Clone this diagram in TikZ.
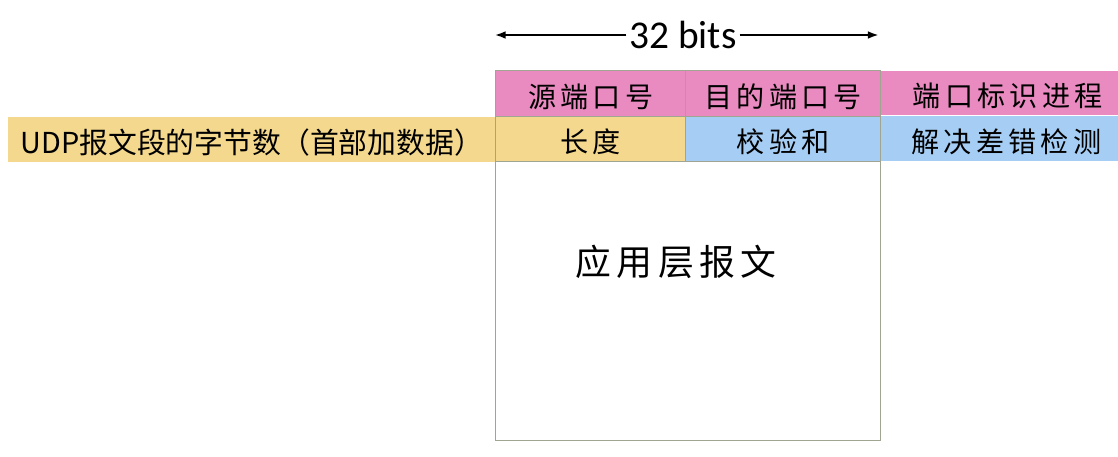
\documentclass[tikz,border=0pt]{standalone}
\usepackage{fontspec}
\setmainfont{Carlito}
\newfontfamily\cjk{Noto Sans CJK SC}
\newfontfamily\cjkwide[LetterSpace=15]{Noto Sans CJK SC}
\usetikzlibrary{arrows.meta,positioning}
\definecolor{portpink}{RGB}{233,139,192}
\definecolor{lenyellow}{RGB}{243,216,141}
\definecolor{sumblue}{RGB}{166,206,245}
\definecolor{cellline}{RGB}{160,165,145}
\tikzset{
	>={Latex[length=7.5pt,width=5.5pt]},
	cell/.style = {
			draw      = cellline,
			line width = 0.9pt,
			anchor    = north west,
			inner sep = 0pt,
			text height = 21pt,
			font      = \fontsize{20}{24}\selectfont\cjkwide,
		},
	note/.style = {
			anchor    = north west,
			inner sep = 0pt,
			text height = 21pt,
			font      = \fontsize{20}{24}\selectfont\cjkwide,
		}
}

\begin{document}
\begin{tikzpicture}[x=0.025cm,y=-0.025cm]
	\useasboundingbox (0,0) rectangle (1118,457);

	% notes beside the header
	\node[note, fill=portpink, minimum width=5.95cm, minimum height=1.1cm] (portnote) at (880,71) {\hspace*{12pt}端口标识进程};
	\node[note, fill=sumblue, minimum width=5.95cm, minimum height=1.125cm] (errnote) at (880,116) {\hspace*{10pt}解决差错检测};
	\node[note, fill=lenyellow, minimum width=12.175cm, minimum height=1.125cm,
		font=\fontsize{20.5}{24}\selectfont\cjk] (lennote) at (8,117) {UDP报文段的字节数（首部加数据）};

	% header fields
	\foreach \n/\x/\y/\w/\h/\c/\t in {
			src/495/70/4.75/1.15/portpink/源端口号,
			dst/685/70/4.875/1.15/portpink/目的端口号,
			len/495/116/4.75/1.125/lenyellow/长度,
			chk/685/116/4.875/1.125/sumblue/校验和
		} {
		\node[cell, fill=\c, minimum width=\w cm, minimum height=\h cm] (\n) at (\x,\y) {\t};
	}

	% payload
	\node[cell, minimum width=9.625cm, minimum height=6.975cm] (data) at (495,161) {};
	\node[font=\fontsize{25.5}{30}\selectfont\cjkwide] (applbl) at (676,262) {应用层报文};

	% word width
	\node[font=\fontsize{28}{32}\selectfont, inner sep=2pt] (bitslbl) at (683,35) {32 bits};
	\draw[->, line width=1.3pt] (bitslbl.west) -- (bitslbl -| src.west);
	\draw[->, line width=1.3pt] (bitslbl.east) -- ([xshift=-2pt]bitslbl -| dst.east);
\end{tikzpicture}
\end{document}
